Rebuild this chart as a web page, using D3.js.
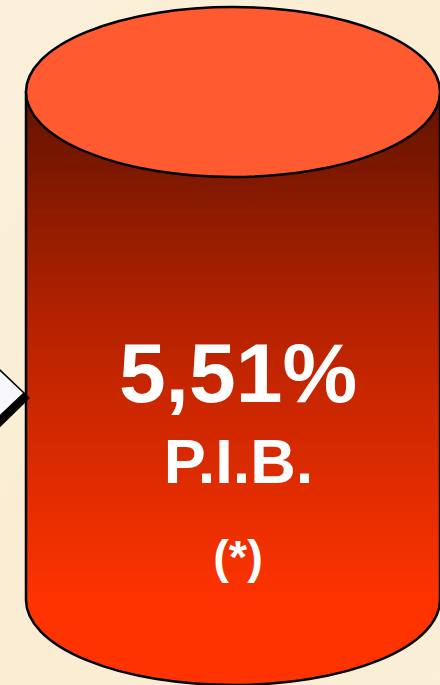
<!DOCTYPE html>
<html><head><meta charset="utf-8">
<script src="https://cdn.jsdelivr.net/npm/d3@7"></script>
<style>html,body{margin:0;padding:0;background:#FBEFD7;overflow:hidden}</style>
</head><body>
<script>
// Data
const categories = ["P.I.B."];
const values = [5.51];
const valueLabels = ["5,51%"];
const notes = ["(*)"];

const W = 440, H = 685;
const svg = d3.select("body").append("svg").attr("width", W).attr("height", H);

const defs = svg.append("defs");
const bg = defs.append("linearGradient").attr("id","bg").attr("x1",0).attr("y1",0).attr("x2",1).attr("y2",1);
bg.append("stop").attr("offset","0%").attr("stop-color","#FBF0DA");
bg.append("stop").attr("offset","50%").attr("stop-color","#FAEDD3");
bg.append("stop").attr("offset","100%").attr("stop-color","#FBEFD7");
svg.append("rect").attr("width",W).attr("height",H).attr("fill","url(#bg)");

// scales
const x = d3.scaleBand().domain(categories).range([26, 440]).padding(0);
const y = d3.scaleLinear().domain([0, values[0]]).range([600, 92]);

const grad = defs.append("linearGradient").attr("id","body").attr("gradientUnits","userSpaceOnUse")
  .attr("x1",0).attr("x2",0).attr("y1",y(values[0])).attr("y2",y(0));
grad.append("stop").attr("offset","0%").attr("stop-color","#611300");
grad.append("stop").attr("offset","45%").attr("stop-color","#B52200");
grad.append("stop").attr("offset","100%").attr("stop-color","#FE3300");

const ry = 85;
categories.forEach((c,i)=>{
  const x0 = x(c), x1 = x0 + x.bandwidth(), cx = (x0+x1)/2, rx = (x1-x0)/2;
  const yt = y(values[i]), yb = y(0);
  const g = svg.append("g");
  g.append("path")
    .attr("d", `M${x0},${yt} L${x0},${yb} A${rx},${ry} 0 0 0 ${x1},${yb} L${x1},${yt} Z`)
    .attr("fill","url(#body)").attr("stroke","#000").attr("stroke-width",2.5);
  g.append("ellipse").attr("cx",cx).attr("cy",yt).attr("rx",rx).attr("ry",ry)
    .attr("fill","#FF5A30").attr("stroke","#000").attr("stroke-width",2.5);
  const tx = 238;
  g.append("text").attr("x",tx).attr("y",402).attr("text-anchor","middle")
    .attr("font-family","Liberation Sans, Arial, sans-serif").attr("font-weight","bold")
    .attr("font-size",84).attr("fill","#fff").text(valueLabels[i]);
  g.append("text").attr("x",238.5).attr("y",483).attr("text-anchor","middle")
    .attr("font-family","Liberation Sans, Arial, sans-serif").attr("font-weight","bold")
    .attr("font-size",63).attr("fill","#fff").text(c);
  g.append("text").attr("x",tx).attr("y",573).attr("text-anchor","middle")
    .attr("font-family","Liberation Sans, Arial, sans-serif").attr("font-weight","bold")
    .attr("font-size",47).attr("fill","#fff").text(notes[i]);
});

// arrow pointing into the cylinder
svg.append("polygon").attr("points","-40,334 30,398 -40,466").attr("fill","#000");
svg.append("polygon").attr("points","-40,332 24,393 -40,454")
  .attr("fill","#F8F8FC").attr("stroke","#000").attr("stroke-width",1.5);
</script>
</body></html>
